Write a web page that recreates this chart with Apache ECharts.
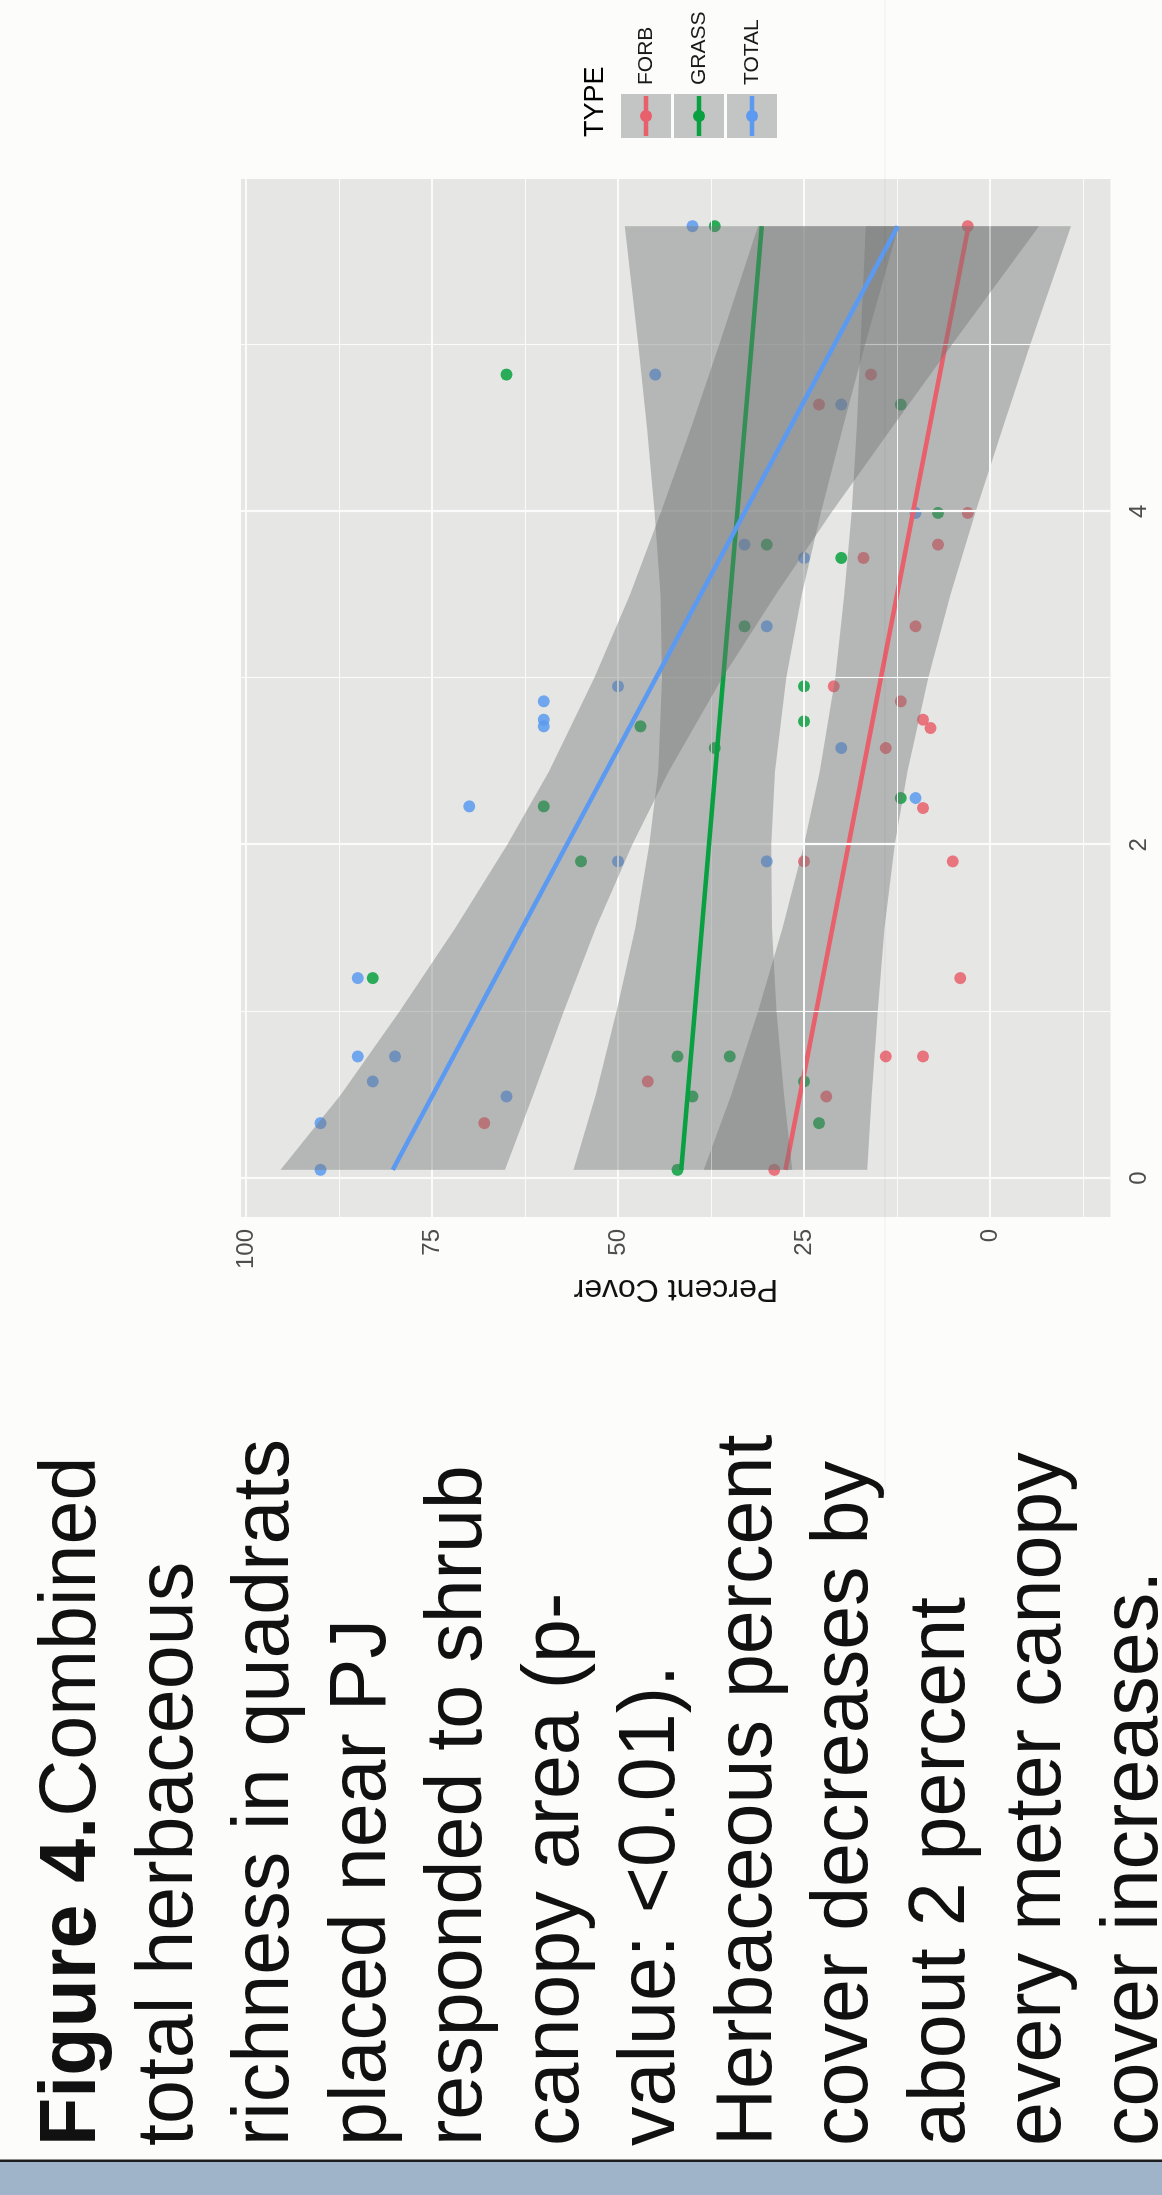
<!DOCTYPE html>
<html><head><meta charset="utf-8">
<script src="https://cdn.jsdelivr.net/npm/echarts@6/dist/echarts.min.js"></script>
<style>
html,body{margin:0;padding:0;width:1162px;height:2195px;overflow:hidden;background:#fcfcfb;}
#rot{position:absolute;left:0;top:0;width:2195px;height:1162px;transform-origin:0 0;transform:translate(0,2195px) rotate(-90deg);}
#chart{width:2195px;height:1162px;}
</style></head><body>
<div id="rot"><div id="chart"></div></div>
<script>
// ---- axis settings ----
const xMin = -0.233, xMax = 5.993;          // square root(PJ Canopy Area)
const yMin = -16.2, yMax = 100.7;           // Percent Cover
const xTicks = [0, 2, 4];
const xMinor = [1, 3, 5];
const yTicks = [0, 25, 50, 75, 100];
const yMinor = [-12.5, 12.5, 37.5, 62.5, 87.5];

// ---- types ----
const types = ['FORB', 'GRASS', 'TOTAL'];
const colors = ['#e8606c', '#08a040', '#5b9af0'];

// ---- points [sqrt canopy, percent cover] ----
const forbPts = [[0.05,29],[0.33,68],[0.49,22],[0.58,46],[0.73,14],[0.73,9],[1.2,4],[1.9,25],[1.9,5],[2.22,9],[2.58,14],[2.70,8],[2.75,9],[2.86,12],[2.95,21],[3.31,10],[3.72,17],[3.8,7],[3.99,3],[4.64,23],[4.82,16],[5.71,3]];
const grassPts = [[0.05,42],[0.33,23],[0.49,40],[0.58,25],[0.73,42],[0.73,35],[1.2,83],[1.9,55],[2.23,60],[2.28,12],[2.58,37],[2.71,47],[2.74,25],[2.95,25],[3.31,33],[3.72,20],[3.8,30],[3.99,7],[4.64,12],[4.82,65],[5.71,37]];
const totalPts = [[0.05,90],[0.33,90],[0.49,65],[0.58,83],[0.73,85],[0.73,80],[1.2,85],[1.9,50],[1.9,30],[2.23,70],[2.28,10],[2.58,20],[2.71,60],[2.75,60],[2.86,60],[2.95,50],[3.31,30],[3.72,25],[3.8,33],[3.99,10],[4.64,20],[4.82,45],[5.71,40]];

// ---- fitted lines (ends) ----
const fitX = [0.05, 5.71];
const forbFit = [27.5, 2.9];
const grassFit = [41.5, 30.7];
const totalFit = [80.3, 12.4];

// ---- confidence ribbons ----
const ribbonX   = [0.05, 0.5, 1, 1.5, 2, 2.44, 3, 3.5, 4, 4.5, 5, 5.71];
const forbHigh  = [38.5, 34.8, 31.2, 27.9, 25.0, 22.9, 20.8, 19.6, 18.6, 17.9, 17.4, 16.7];
const forbLow   = [16.5, 15.9, 15.1, 14.2, 12.8, 11.1, 8.3, 5.3, 1.9, -1.7, -5.4, -10.9];
const grassHigh = [56.0, 53.0, 50.2, 47.7, 45.8, 44.6, 44.1, 44.3, 45.1, 46.1, 47.3, 49.1];
const grassLow  = [26.6, 27.7, 28.7, 29.3, 29.4, 28.9, 27.4, 25.3, 22.7, 19.8, 16.8, 12.3];
const totalHigh = [95.4, 87.3, 79.4, 71.9, 64.9, 59.3, 53.2, 48.4, 44.2, 40.2, 36.4, 31.2];
const totalLow  = [65.2, 61.4, 57.3, 53.0, 48.1, 43.2, 36.0, 28.8, 21.2, 13.2, 5.1, -6.6];

const captionLines = [
  '{b|Figure 4.}Combined',
  'total herbaceous',
  'richness in quadrats',
  'placed near PJ',
  'responded to shrub',
  'canopy area (p-',
  'value: <0.01).',
  'Herbaceous percent',
  'cover decreases by',
  'about 2 percent',
  'every meter canopy',
  'cover increases.'
];

const FONT = 'Liberation Sans, Arial, Helvetica, sans-serif';
const RIB = 'rgba(115,117,117,0.42)';

function ribbon(name, low, high, z) {
  return {
    type: 'custom', name: name + ' se', z: z, silent: true,
    data: ribbonX.map((x, i) => [x, low[i], high[i]]),
    encode: { x: 0, y: [1, 2] },
    renderItem: function (params, api) {
      if (params.dataIndex !== 0) return null;
      const pts = [];
      for (let i = 0; i < ribbonX.length; i++) pts.push(api.coord([ribbonX[i], high[i]]));
      for (let i = ribbonX.length - 1; i >= 0; i--) pts.push(api.coord([ribbonX[i], low[i]]));
      return { type: 'polygon', shape: { points: pts }, style: { fill: RIB } };
    }
  };
}
function fit(name, vals, color, z) {
  return {
    type: 'line', name: name + ' fit', z: z, silent: true, symbol: 'none',
    data: fitX.map((x, i) => [x, vals[i]]),
    lineStyle: { color: color, width: 4.5 }
  };
}
function pts(name, data, color) {
  return {
    type: 'scatter', name: name, z: 2, silent: true, symbolSize: 12,
    data: data, itemStyle: { color: color, opacity: 0.85 }
  };
}

const gridLines = [];
xTicks.forEach(v => gridLines.push({ xAxis: v, lineStyle: { width: 2.2 } }));
xMinor.forEach(v => gridLines.push({ xAxis: v, lineStyle: { width: 1.1 } }));
yTicks.forEach(v => gridLines.push({ yAxis: v, lineStyle: { width: 2.2 } }));
yMinor.forEach(v => gridLines.push({ yAxis: v, lineStyle: { width: 1.1 } }));

// legend keys (graphic)
const legendG = [];
legendG.push({ type: 'text', x: 2058, y: 596, z: 50, style: { text: 'TYPE', fontSize: 27, fontFamily: FONT, fill: '#000', verticalAlign: 'middle', align: 'left' } });
types.forEach((t, i) => {
  const top = 621 + i * 53;
  const cy = top + 25;
  legendG.push({ type: 'rect', z: 50, shape: { x: 2057, y: top, width: 44, height: 50 }, style: { fill: '#c3c5c4' } });
  legendG.push({ type: 'line', z: 51, shape: { x1: 2059, y1: cy, x2: 2099, y2: cy }, style: { stroke: colors[i], lineWidth: 4.5 } });
  legendG.push({ type: 'circle', z: 52, shape: { cx: 2079, cy: cy, r: 6 }, style: { fill: colors[i] } });
  legendG.push({ type: 'text', z: 50, x: 2110, y: cy, style: { text: t, fontSize: 21, fontFamily: FONT, fill: '#1a1a1a', verticalAlign: 'middle', align: 'left' } });
});

const option = {
  animation: false,
  grid: { left: 978, right: 179, top: 241, bottom: 51.5, show: true, backgroundColor: '#e6e7e5', borderWidth: 0 },
  xAxis: {
    type: 'value', min: xMin, max: xMax,
    axisLine: { show: false }, splitLine: { show: false },
    axisTick: { show: true, customValues: xTicks, length: 7, lineStyle: { color: '#333', width: 2 } },
    axisLabel: { show: true, customValues: xTicks, margin: 17, fontSize: 24, color: '#4d4d4d', fontFamily: FONT }
  },
  yAxis: {
    type: 'value', min: yMin, max: yMax,
    name: 'Percent Cover', nameLocation: 'middle', nameGap: 55,
    nameTextStyle: { fontSize: 32, color: '#111', fontFamily: FONT },
    axisLine: { show: false }, splitLine: { show: false },
    axisTick: { show: true, customValues: yTicks, length: 7, lineStyle: { color: '#333', width: 2 } },
    axisLabel: { show: true, customValues: yTicks, margin: 12, fontSize: 24, color: '#4d4d4d', fontFamily: FONT }
  },
  series: [
    { type: 'line', name: 'grid', data: [], z: 1, silent: true,
      markLine: { silent: true, symbol: ['none', 'none'], label: { show: false }, animation: false,
        lineStyle: { color: '#fbfbfb', type: 'solid' }, data: gridLines } },
    pts('FORB', forbPts, colors[0]),
    pts('GRASS', grassPts, colors[1]),
    pts('TOTAL', totalPts, colors[2]),
    ribbon('FORB', forbLow, forbHigh, 3),
    fit('FORB', forbFit, colors[0], 4),
    ribbon('GRASS', grassLow, grassHigh, 5),
    fit('GRASS', grassFit, colors[1], 6),
    ribbon('TOTAL', totalLow, totalHigh, 7),
    fit('TOTAL', totalFit, colors[2], 8)
  ],
  graphic: [
    { type: 'rect', z: 40, silent: true, shape: { x: 0, y: 0, width: 33, height: 1162 }, style: { fill: '#9fb4c9' } },
    { type: 'rect', z: 41, silent: true, shape: { x: 33, y: 0, width: 2.5, height: 1162 }, style: { fill: '#1e1e1e' } },
    { type: 'line', z: 60, silent: true, shape: { x1: 700, y1: 885, x2: 2195, y2: 885 }, style: { stroke: 'rgba(0,0,0,0.05)', lineWidth: 1 } },
    { type: 'text', z: 42, x: 49, y: 25, silent: true,
      style: { text: captionLines.join('\n'), fontSize: 79, lineHeight: 96.5, fontFamily: FONT, fill: '#111',
        rich: { b: { fontSize: 79, lineHeight: 96.5, fontWeight: 'bold', fontFamily: FONT, fill: '#111' } } } }
  ].concat(legendG)
};

const chart = echarts.init(document.getElementById('chart'), null, { renderer: 'canvas' });
chart.setOption(option);
</script>
</body></html>
